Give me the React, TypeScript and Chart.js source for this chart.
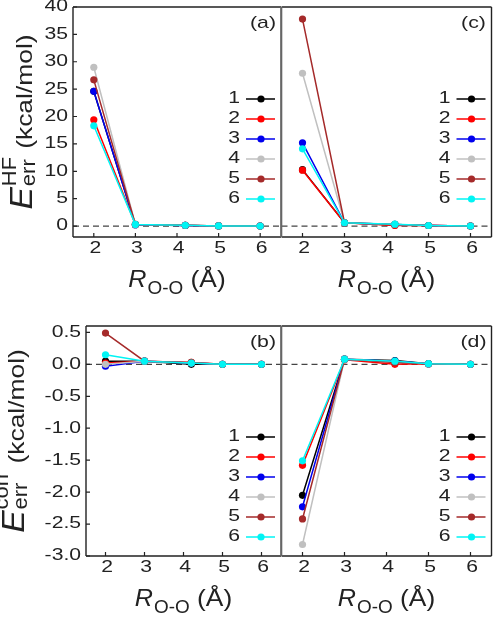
import { useEffect, useRef } from "react";
import { Chart, registerables } from "chart.js";

Chart.register(...registerables);

const W = 497;
const H = 617;
const FONT = "'Liberation Sans', Arial, Helvetica, sans-serif";

// O–O separations (Å)
const distances = [2.0, 3.0, 4.2, 5.0, 6.0];

// cluster labels and colours
const seriesNames = ["1", "2", "3", "4", "5", "6"];
const seriesColors = ["#000000", "#ff0000", "#0000ee", "#c0c0c0", "#a52a2a", "#00f4f4"];

// axis ticks
const xTicks = [2, 3, 4, 5, 6];
const hfTicks = [0, 5, 10, 15, 20, 25, 30, 35, 40];
const hfTickLabels = ["0", "5", "10", "15", "20", "25", "30", "35", "40"];
const corrTicks = [0.5, 0.0, -0.5, -1.0, -1.5, -2.0, -2.5, -3.0];
const corrTickLabels = ["0.5", "0.0", "-0.5", "-1.0", "-1.5", "-2.0", "-2.5", "-3.0"];

// (a) HF error, first set
const hfA1 = [24.6, 0.25, 0.12, 0.02, 0.0];
const hfA2 = [19.4, 0.3, 0.15, 0.03, 0.0];
const hfA3 = [24.6, 0.25, 0.12, 0.02, 0.0];
const hfA4 = [29.0, 0.3, 0.15, 0.03, 0.0];
const hfA5 = [26.7, 0.3, 0.15, 0.03, 0.0];
const hfA6 = [18.3, 0.3, 0.15, 0.03, 0.0];

// (c) HF error, second set
const hfC1 = [10.3, 0.6, 0.2, 0.1, 0.0];
const hfC2 = [10.2, 0.6, 0.1, 0.1, 0.0];
const hfC3 = [15.2, 0.6, 0.3, 0.1, 0.0];
const hfC4 = [27.9, 0.6, 0.3, 0.1, 0.0];
const hfC5 = [37.8, 0.6, 0.3, 0.1, 0.0];
const hfC6 = [14.1, 0.6, 0.35, 0.1, 0.0];

// (b) correlation error, first set
const corrB1 = [0.05, 0.05, 0.0, 0.0, 0.0];
const corrB2 = [0.02, 0.05, 0.03, 0.0, 0.0];
const corrB3 = [-0.03, 0.05, 0.02, 0.0, 0.0];
const corrB4 = [0.0, 0.05, 0.02, 0.0, 0.0];
const corrB5 = [0.49, 0.05, 0.03, 0.0, 0.0];
const corrB6 = [0.15, 0.05, 0.02, 0.0, 0.0];

// (d) correlation error, second set
const corrD1 = [-2.05, 0.08, 0.06, 0.01, 0.0];
const corrD2 = [-1.58, 0.07, 0.0, 0.01, 0.0];
const corrD3 = [-2.23, 0.08, 0.05, 0.01, 0.0];
const corrD4 = [-2.82, 0.08, 0.04, 0.01, 0.0];
const corrD5 = [-2.42, 0.08, 0.03, 0.01, 0.0];
const corrD6 = [-1.51, 0.08, 0.05, 0.01, 0.0];

type Panel = {
  tag: string;
  series: number[][];
  area: { left: number; top: number; right: number; bottom: number };
  yMin: number;
  yMax: number;
  yTicks: number[];
  yTickLabels: string[] | null;
  yTitleSup: string | null;
  yTitleX: number;
  legendY: number;
};

const panels: Panel[] = [
  {
    tag: "(a)",
    series: [hfA1, hfA2, hfA3, hfA4, hfA5, hfA6],
    area: { left: 73, top: 7, right: 281, bottom: 237 },
    yMin: -2, yMax: 40,
    yTicks: hfTicks, yTickLabels: hfTickLabels,
    yTitleSup: "HF", yTitleX: 32, legendY: 99,
  },
  {
    tag: "(c)",
    series: [hfC1, hfC2, hfC3, hfC4, hfC5, hfC6],
    area: { left: 281.5, top: 7, right: 491.5, bottom: 237 },
    yMin: -2, yMax: 40,
    yTicks: hfTicks, yTickLabels: null,
    yTitleSup: null, yTitleX: 0, legendY: 99,
  },
  {
    tag: "(b)",
    series: [corrB1, corrB2, corrB3, corrB4, corrB5, corrB6],
    area: { left: 86, top: 326, right: 281, bottom: 556 },
    yMin: -3.0, yMax: 0.6,
    yTicks: corrTicks, yTickLabels: corrTickLabels,
    yTitleSup: "corr", yTitleX: 24, legendY: 437,
  },
  {
    tag: "(d)",
    series: [corrD1, corrD2, corrD3, corrD4, corrD5, corrD6],
    area: { left: 281.5, top: 326, right: 491.5, bottom: 556 },
    yMin: -3.0, yMax: 0.6,
    yTicks: corrTicks, yTickLabels: null,
    yTitleSup: null, yTitleX: 0, legendY: 437,
  },
];

// text with a horizontal stretch factor
function wideText(
  ctx: CanvasRenderingContext2D,
  text: string,
  x: number,
  y: number,
  font: string,
  align: CanvasTextAlign,
  sx: number
) {
  ctx.save();
  ctx.font = font;
  ctx.translate(x, y);
  ctx.scale(sx, 1);
  ctx.textAlign = align;
  ctx.fillText(text, 0, 0);
  ctx.restore();
}

function textWidth(ctx: CanvasRenderingContext2D, text: string, font: string, sx: number) {
  ctx.save();
  ctx.font = font;
  const w = ctx.measureText(text).width * sx;
  ctx.restore();
  return w;
}

function makePlugin(p: Panel) {
  const TICK_SX = 1.32;
  const tickFont = `16px ${FONT}`;
  return {
    id: "panelDecor" + p.tag,
    beforeDatasetsDraw(chart: Chart) {
      const ctx = chart.ctx;
      const { left, right } = chart.chartArea;
      const y0 = chart.scales.y.getPixelForValue(0);
      ctx.save();
      ctx.strokeStyle = "#444444";
      ctx.lineWidth = 1.2;
      ctx.setLineDash([6, 4]);
      ctx.beginPath();
      ctx.moveTo(left, y0);
      ctx.lineTo(right, y0);
      ctx.stroke();
      ctx.restore();
    },
    afterDatasetsDraw(chart: Chart) {
      const ctx = chart.ctx;
      const { left, right, top, bottom } = chart.chartArea;
      const xs = chart.scales.x;
      const ys = chart.scales.y;

      ctx.save();
      // frame
      ctx.strokeStyle = "#222222";
      ctx.lineWidth = 1.4;
      ctx.setLineDash([]);
      ctx.beginPath();
      ctx.moveTo(left, top);
      ctx.lineTo(right, top);
      ctx.moveTo(left, bottom);
      ctx.lineTo(right, bottom);
      if (p.yTickLabels) {
        ctx.moveTo(left, top);
        ctx.lineTo(left, bottom);
      } else {
        ctx.moveTo(right, top);
        ctx.lineTo(right, bottom);
      }
      ctx.stroke();
      // shared divider between the two columns
      ctx.strokeStyle = "#666666";
      ctx.lineWidth = 1.6;
      ctx.beginPath();
      const divX = p.yTickLabels ? right : left;
      ctx.moveTo(divX, top);
      ctx.lineTo(divX, bottom);
      ctx.stroke();

      // inward ticks
      ctx.strokeStyle = "#222222";
      ctx.lineWidth = 1.2;
      ctx.beginPath();
      xTicks.forEach((t) => {
        const x = xs.getPixelForValue(t);
        ctx.moveTo(x, bottom);
        ctx.lineTo(x, bottom - 4);
      });
      if (p.yTickLabels) {
        p.yTicks.forEach((t) => {
          const y = ys.getPixelForValue(t);
          ctx.moveTo(left, y);
          ctx.lineTo(left + 4, y);
        });
      }
      ctx.stroke();

      // tick labels
      ctx.fillStyle = "#222222";
      ctx.textBaseline = "middle";
      xTicks.forEach((t) => {
        wideText(ctx, String(t), xs.getPixelForValue(t) + 1.5, bottom + 12, tickFont, "center", TICK_SX);
      });
      if (p.yTickLabels) {
        p.yTicks.forEach((t, i) => {
          wideText(ctx, p.yTickLabels![i], left - 5, ys.getPixelForValue(t), tickFont, "right", TICK_SX);
        });
      }

      // panel tag
      wideText(ctx, p.tag, right - 18, top + 16, `17px ${FONT}`, "center", 1.25);

      // legend
      chart.data.datasets.forEach((ds, i) => {
        const y = p.legendY + i * 20;
        const color = (ds.borderColor as string) || "#000";
        ctx.fillStyle = "#222222";
        wideText(ctx, ds.label || "", right - 41, y, tickFont, "right", TICK_SX);
        ctx.strokeStyle = color;
        ctx.lineWidth = 1.5;
        ctx.beginPath();
        ctx.moveTo(right - 35, y);
        ctx.lineTo(right - 6, y);
        ctx.stroke();
        ctx.fillStyle = color;
        ctx.beginPath();
        ctx.arc(right - 20, y, 3.6, 0, Math.PI * 2);
        ctx.fill();
      });

      // x-axis title: R_O-O (Å)
      ctx.fillStyle = "#222222";
      ctx.textBaseline = "alphabetic";
      const fR = `italic 24px ${FONT}`;
      const fSub = `18px ${FONT}`;
      const fUnit = `24px ${FONT}`;
      const wR = textWidth(ctx, "R", fR, 1.05);
      const wSub = textWidth(ctx, "O-O", fSub, 1.05);
      const wUnit = textWidth(ctx, " (Å)", fUnit, 1.1);
      const total = wR + 1 + wSub + wUnit;
      const cx = (left + right) / 2;
      const base = bottom + 50;
      let x = cx - total / 2;
      wideText(ctx, "R", x, base, fR, "left", 1.05);
      x += wR + 1;
      wideText(ctx, "O-O", x, base + 7, fSub, "left", 1.05);
      x += wSub;
      wideText(ctx, " (Å)", x, base, fUnit, "left", 1.1);

      // y-axis title: E_err^sup (kcal/mol), reading upward
      if (p.yTitleSup) {
        const fE = `italic 32px ${FONT}`;
        const fS = `20px ${FONT}`;
        const fU = `22px ${FONT}`;
        const wE = textWidth(ctx, "E", fE, 1.05);
        const wErr = textWidth(ctx, "err", fS, 1.1);
        const wSup = textWidth(ctx, p.yTitleSup, fS, 1.1);
        const wU = textWidth(ctx, "(kcal/mol)", fU, 1.2);
        const gap = 8;
        const len = wE + 1 + Math.max(wErr, wSup) + gap + wU;
        ctx.save();
        ctx.translate(p.yTitleX, (top + bottom) / 2);
        ctx.rotate(-Math.PI / 2);
        let lx = -len / 2;
        wideText(ctx, "E", lx, 0, fE, "left", 1.05);
        lx += wE + 1;
        wideText(ctx, "err", lx, 3, fS, "left", 1.1);
        wideText(ctx, p.yTitleSup, lx, -16, fS, "left", 1.1);
        lx += Math.max(wErr, wSup) + gap;
        wideText(ctx, "(kcal/mol)", lx, 0, fU, "left", 1.2);
        ctx.restore();
      }
      ctx.restore();
    },
  };
}

function PanelChart({ panel }: { panel: Panel }) {
  const ref = useRef<HTMLCanvasElement | null>(null);
  useEffect(() => {
    if (!ref.current) return;
    const a = panel.area;
    const n = panel.series.length;
    const chart = new Chart(ref.current, {
      type: "line",
      data: {
        datasets: panel.series.map((vals, i) => ({
          label: seriesNames[i],
          data: distances.map((d, j) => ({ x: d, y: vals[j] })),
          borderColor: seriesColors[i],
          backgroundColor: seriesColors[i],
          pointBackgroundColor: seriesColors[i],
          pointBorderWidth: 0,
          pointRadius: 3.6,
          borderWidth: 1.5,
          tension: 0,
          // later series are painted over earlier ones
          order: n - 1 - i,
        })),
      },
      options: {
        responsive: false,
        animation: false,
        devicePixelRatio: 1,
        events: [],
        layout: {
          padding: { left: a.left, top: a.top, right: W - a.right, bottom: H - a.bottom },
        },
        plugins: { legend: { display: false }, tooltip: { enabled: false } },
        scales: {
          x: { type: "linear", min: 1.5, max: 6.5, display: false },
          y: { type: "linear", min: panel.yMin, max: panel.yMax, display: false },
        },
      },
      plugins: [makePlugin(panel)],
    });
    return () => chart.destroy();
  }, [panel]);
  return (
    <canvas
      ref={ref}
      width={W}
      height={H}
      style={{ position: "absolute", left: 0, top: 0, width: W, height: H }}
    />
  );
}

export default function App() {
  return (
    <div
      style={{
        position: "fixed",
        left: 0,
        top: 0,
        width: W,
        height: H,
        background: "#ffffff",
        overflow: "hidden",
      }}
    >
      {panels.map((p) => (
        <PanelChart key={p.tag} panel={p} />
      ))}
    </div>
  );
}
